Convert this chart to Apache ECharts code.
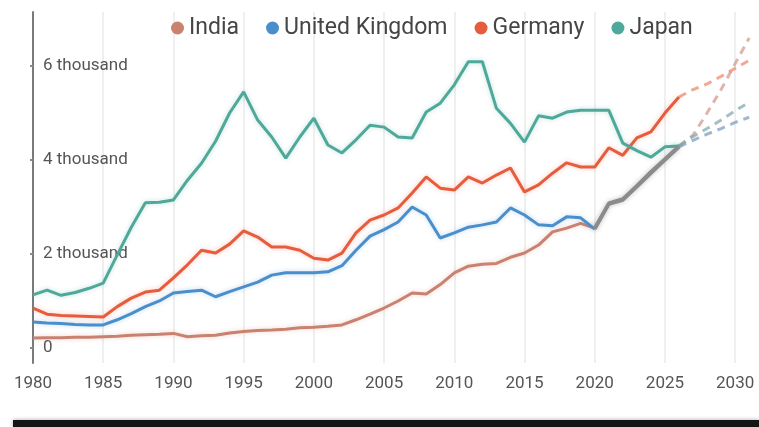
<!DOCTYPE html>
<html>
<head>
<meta charset="utf-8">
<script src="https://cdn.jsdelivr.net/npm/echarts@6/dist/echarts.min.js"></script>
<style>
html,body{margin:0;padding:0;background:#fff;}
#chart{width:759px;height:427px;}
</style>
</head>
<body>
<div id="chart"></div>
<script>
// GDP, thousands of billions USD
const years = [1980,1981,1982,1983,1984,1985,1986,1987,1988,1989,1990,1991,1992,1993,1994,1995,1996,1997,1998,1999,2000,2001,2002,2003,2004,2005,2006,2007,2008,2009,2010,2011,2012,2013,2014,2015,2016,2017,2018,2019,2020,2021,2022,2023,2024,2025,2026];
const indiaValues = [0.21,0.22,0.22,0.23,0.23,0.24,0.25,0.27,0.28,0.29,0.31,0.24,0.26,0.27,0.32,0.35,0.37,0.38,0.40,0.43,0.44,0.46,0.49,0.60,0.72,0.85,1.00,1.17,1.15,1.35,1.60,1.74,1.78,1.80,1.93,2.02,2.19,2.47,2.55,2.65,2.55,3.08,3.17,3.45,3.75,4.02,4.30];
const ukValues = [0.55,0.53,0.52,0.50,0.49,0.49,0.60,0.73,0.88,1.00,1.17,1.20,1.23,1.09,1.20,1.30,1.40,1.55,1.60,1.60,1.60,1.62,1.75,2.08,2.38,2.52,2.68,3.00,2.83,2.34,2.45,2.57,2.62,2.68,2.98,2.83,2.62,2.60,2.79,2.77,2.53,3.06,3.15,3.43,3.72,4.00,4.28];
const germanyValues = [0.85,0.72,0.69,0.68,0.67,0.66,0.88,1.06,1.19,1.23,1.49,1.77,2.08,2.02,2.21,2.49,2.36,2.15,2.15,2.08,1.91,1.87,2.02,2.45,2.72,2.83,2.98,3.30,3.64,3.40,3.36,3.64,3.51,3.68,3.83,3.32,3.47,3.72,3.94,3.85,3.85,4.26,4.10,4.47,4.60,5.00,5.34];
const japanValues = [1.13,1.23,1.12,1.18,1.27,1.38,1.98,2.57,3.09,3.10,3.15,3.57,3.93,4.40,5.00,5.45,4.85,4.49,4.04,4.49,4.89,4.32,4.15,4.43,4.74,4.70,4.49,4.47,5.02,5.21,5.60,6.09,6.09,5.10,4.78,4.38,4.94,4.89,5.02,5.06,5.06,5.06,4.36,4.20,4.06,4.28,4.30];
// projections
const projYears = [2026,2027,2028,2029,2030,2031];
const indiaProj = [4.30,4.53,5.00,5.50,6.05,6.60];
const ukProj = [4.28,4.42,4.55,4.67,4.80,4.91];
const germanyProj = [5.34,5.50,5.62,5.78,5.95,6.12];
const japanProj = [4.30,4.50,4.67,4.85,5.05,5.23];
const overlapStartYear = 2020;
const xTickLabels = [1980,1985,1990,1995,2000,2005,2010,2015,2020,2025,2030];
const yTickValues = [0,2,4,6];
const names = ['India','United Kingdom','Germany','Japan'];
const colors = {India:'#c9826f','United Kingdom':'#4a8ecb',Germany:'#e65c3c',Japan:'#4fa99a'};
const overlapColor = '#8b8b8b';

function pairs(xs, vs, from, to){
  const out=[];
  xs.forEach((y,i)=>{ if(y>=from && y<=to) out.push([y,vs[i]]); });
  return out;
}
function solid(name, data, color, w){
  return {name, type:'line', data, symbol:'none', smooth:false, z:3,
    lineStyle:{color, width:w||3, shadowColor:color+'55', shadowBlur:5},
    itemStyle:{color}, emphasis:{disabled:true}};
}
function dashed(name, data, color){
  return {name, type:'line', data, symbol:'none', z:2,
    lineStyle:{color, width:3, type:[8,6], opacity:0.75},
    itemStyle:{color}, emphasis:{disabled:true}};
}

const chart = echarts.init(document.getElementById('chart'), null, {renderer:'canvas'});
const font = 'Roboto';
chart.setOption({
  animation:false,
  backgroundColor:'#fff',
  textStyle:{fontFamily:font},
  legend:{
    top:9, left:166, icon:'circle', itemWidth:13, itemHeight:13, itemGap:27,
    textStyle:{fontSize:23, color:'#454545', fontFamily:font, lineHeight:28},
    data:names.map(n=>({name:n, itemStyle:{color:colors[n]}}))
  },
  grid:{left:33, right:7, top:12, bottom:64, containLabel:false},
  xAxis:{
    type:'value', min:1980, max:2031.2,
    axisLine:{show:false},
    axisTick:{show:false, customValues:xTickLabels},
    axisLabel:{customValues:xTickLabels, fontSize:17, color:'#555', margin:12, fontFamily:font,
      formatter:v=>String(v)},
    splitLine:{show:true, lineStyle:{color:'#efefef', width:2}}
  },
  yAxis:{
    type:'value', min:-0.32, max:7.15,
    axisLine:{show:true, lineStyle:{color:'#7a7a7a', width:2}},
    axisTick:{show:true, length:3, customValues:yTickValues, lineStyle:{color:'#8a8a8a', width:2}},
    axisLabel:{customValues:yTickValues, inside:true, margin:10, fontSize:17, color:'#555', fontFamily:font,
      formatter:v=> v===0 ? '0' : v+' thousand'},
    splitLine:{show:false}
  },
  series:[
    solid('India', pairs(years, indiaValues, 1980, overlapStartYear), colors.India),
    solid('United Kingdom', pairs(years, ukValues, 1980, overlapStartYear), colors['United Kingdom']),
    solid('Germany', pairs(years, germanyValues, 1980, 2026), colors.Germany),
    solid('Japan', pairs(years, japanValues, 1980, 2026), colors.Japan),
    dashed('India', pairs(projYears, indiaProj, 2026, 2031), '#d49c8e'),
    dashed('United Kingdom', pairs(projYears, ukProj, 2026, 2031), '#7f9fc0'),
    dashed('Germany', pairs(projYears, germanyProj, 2026, 2031), '#ec8c70'),
    dashed('Japan', pairs(projYears, japanProj, 2026, 2031), '#82a9b4'),
    solid('United Kingdom', pairs(years, ukValues, overlapStartYear, 2026), overlapColor, 3.5),
    solid('India', pairs(years, indiaValues, overlapStartYear, 2026), overlapColor, 3.5)
  ],
  graphic:[{type:'rect', left:13, top:420, shape:{width:746, height:7},
    style:{fill:'#151515', shadowColor:'rgba(0,0,0,0.35)', shadowBlur:4}, z:10}]
});
</script>
</body>
</html>
